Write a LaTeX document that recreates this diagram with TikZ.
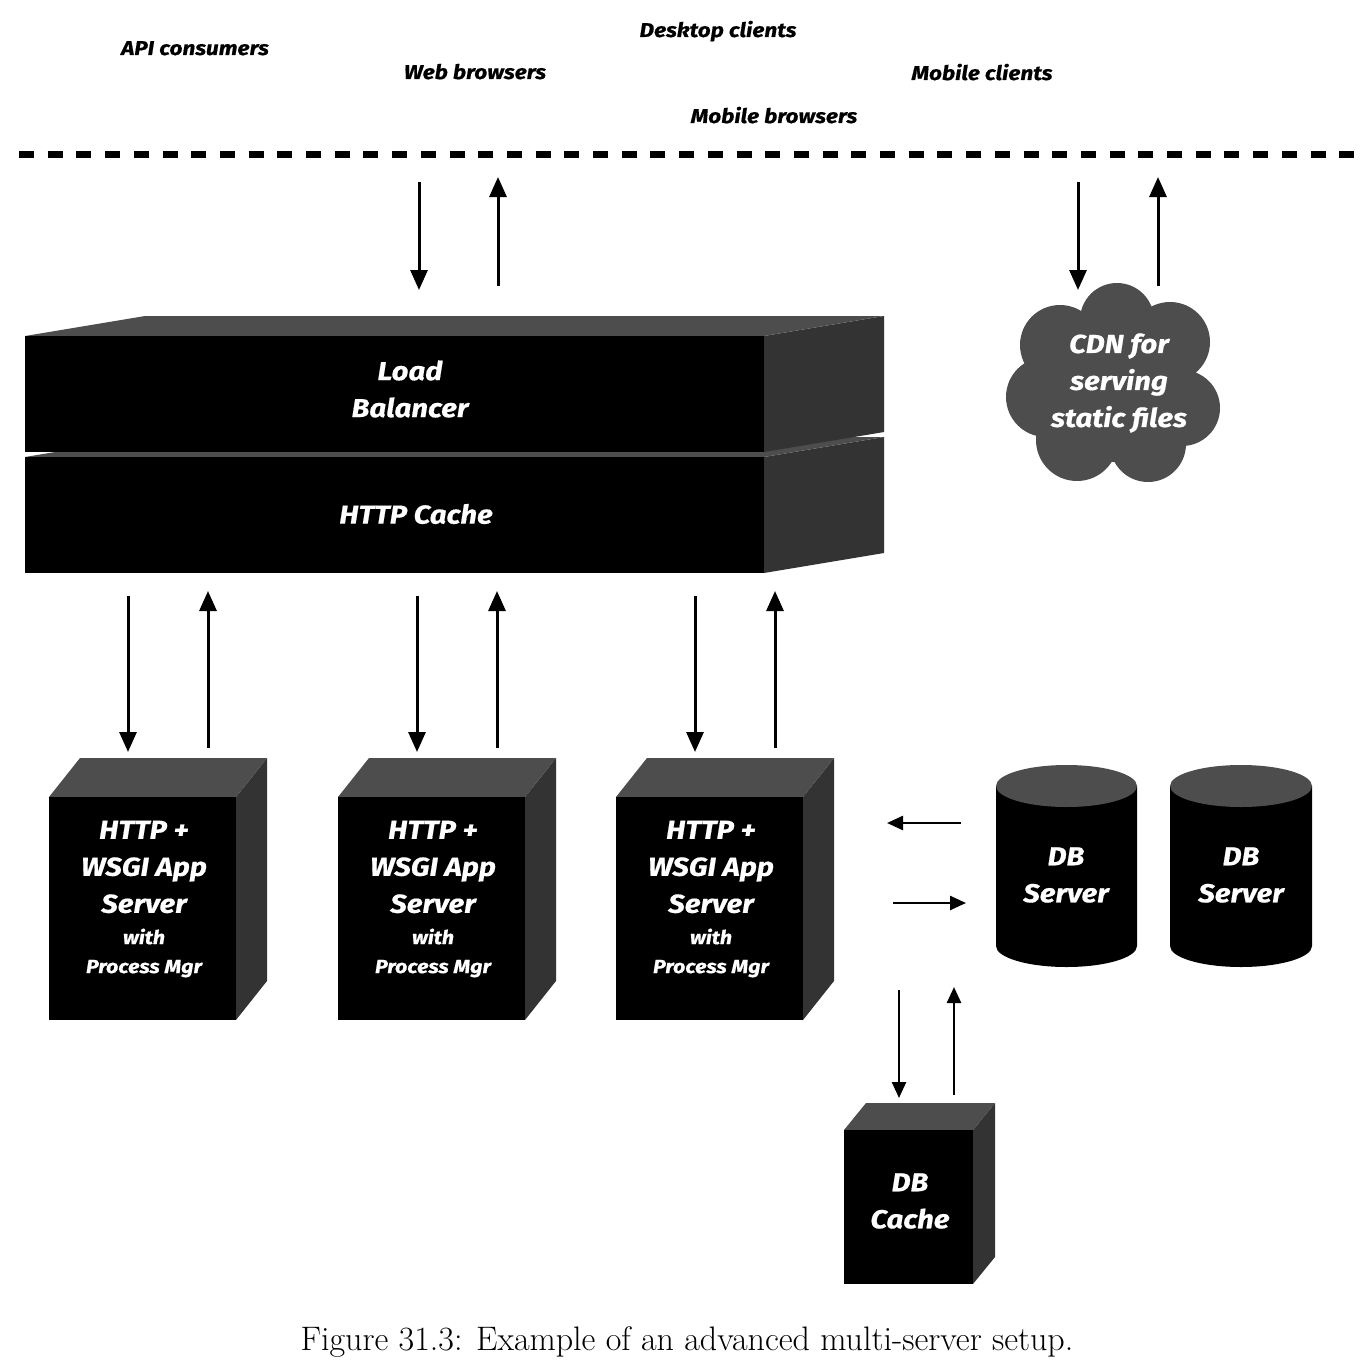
\documentclass[tikz,border=0pt]{standalone}
\usepackage{fontspec}
\usetikzlibrary{arrows.meta}
\newfontfamily\lab{Fira Sans}[FakeStretch=1.13,FakeBold=0.6]
\definecolor{topg}{HTML}{4D4D4D}
\definecolor{sideg}{HTML}{333333}
\newcommand{\mycuboid}[6]{%
  \fill[sideg] (#3,#2) -- ++(#5,-#6) -- (#3+#5,#4-#6) -- (#3,#4) -- cycle;
  \fill[topg] (#1,#2) -- ++(#5,-#6) -- (#3+#5,#2-#6) -- (#3,#2) -- cycle;
  \fill[black] (#1,#2) rectangle (#3,#4);}
\newcommand{\mycyl}[3]{% left x, right x
  \fill[black] (#1,786) -- (#1,946) arc[start angle=180,end angle=360,x radius={(#2-#1)/2*1pt},y radius=21pt] -- (#2,786) -- cycle;
  \fill[topg] ({(#1+#2)/2},786) ellipse[x radius={(#2-#1)/2*1pt},y radius=21pt];}
\tikzset{
  big/.style={text=white,align=center,font=\lab\bfseries\itshape\fontsize{26}{37}\selectfont,inner sep=0pt},
  small/.style={text=white,align=center,font=\lab\bfseries\itshape\fontsize{19}{29}\selectfont,inner sep=0pt},
  client/.style={text=black,anchor=base,font=\lab\bfseries\itshape\fontsize{20}{23}\selectfont,inner sep=0pt},
  arr/.style={line width=3pt,-{Triangle[length=20pt,width=17pt]}},
  arrs/.style={line width=2.5pt,-{Triangle[length=16pt,width=14pt]}},
}
\begin{document}
\begin{tikzpicture}[x=1pt,y=-1pt]
\useasboundingbox (0,0) rectangle (1368,1362);
% clients
\node[client] (api) at (195,55) {API consumers};
\node[client] (web) at (475,79) {Web browsers};
\node[client] (desk) at (718,37) {Desktop clients};
\node[client] (mobc) at (982,80) {Mobile clients};
\node[client] (mobb) at (774,123) {Mobile browsers};
\draw[line width=7pt,dash pattern=on 15pt off 13.7pt] (19,155) -- (1360,155);
% load balancer + cache
\mycuboid{25}{457}{764}{573}{120}{20}
\mycuboid{25}{336}{764}{452}{120}{20}
\node[big] (lb) at (410,389) {Load\\Balancer};
\node[big] (cache) at (416,514) {HTTP Cache};
% cdn cloud
\begin{scope}
\fill[topg] (1117,320) circle[radius=37pt] (1060,345) circle[radius=40pt]
  (1170,342) circle[radius=40pt] (1046,397) circle[radius=40pt]
  (1182,408) circle[radius=38pt] (1077,440) circle[radius=41pt]
  (1148,444) circle[radius=38pt] (1115,390) circle[radius=72pt];
\end{scope}
\node[big] (cdn) at (1119,383) {CDN for\\serving\\static files};
% app servers
\foreach \x/\n in {49/1,338/2,616/3}{
  \mycuboid{\x}{797}{\x+187}{1020}{31}{39}
  \node[big] (s\n a) at (\x+95,867) {HTTP +\\WSGI App\\Server};
  \node[small] (s\n b) at (\x+95,953) {with\\Process Mgr};
}
% db servers
\mycyl{996}{1137}{}
\mycyl{1170}{1312}{}
\node[big] (db1) at (1066,875) {DB\\Server};
\node[big] (db2) at (1241,875) {DB\\Server};
% db cache
\mycuboid{844}{1130}{973}{1284}{22}{27}
\node[big] (dbc) at (910,1201) {DB\\Cache};
% arrow endpoints
\coordinate (t1s) at (419,182); \coordinate (t1e) at (419,290);
\coordinate (t2s) at (498,286); \coordinate (t2e) at (498,177);
\coordinate (c1s) at (1078,182); \coordinate (c1e) at (1078,290);
\coordinate (c2s) at (1158,286); \coordinate (c2e) at (1158,177);
\draw[arr] (t1s) -- (t1e);
\draw[arr] (t2s) -- (t2e);
\draw[arr] (c1s) -- (c1e);
\draw[arr] (c2s) -- (c2e);
\foreach \d/\u/\n in {128/208/1,417/497/2,695/775/3}{
  \coordinate (d\n s) at (\d,596); \coordinate (d\n e) at (\d,752);
  \coordinate (u\n s) at (\u,748); \coordinate (u\n e) at (\u,591);
  \draw[arr] (d\n s) -- (d\n e);
  \draw[arr] (u\n s) -- (u\n e);
}
\coordinate (h1s) at (961,823); \coordinate (h1e) at (887,823);
\coordinate (h2s) at (893,903); \coordinate (h2e) at (966,903);
\draw[arrs] (h1s) -- (h1e);
\draw[arrs] (h2s) -- (h2e);
\coordinate (v1s) at (899,990); \coordinate (v1e) at (899,1098);
\coordinate (v2s) at (954,1095); \coordinate (v2e) at (954,987);
\draw[arrs] (v1s) -- (v1e);
\draw[arrs] (v2s) -- (v2e);
% caption
\node[anchor=base,inner sep=0pt,font=\fontsize{34}{40}\selectfont] (cap) at (687,1350) {Figure 31.3: Example of an advanced multi-server setup.};
\end{tikzpicture}
\end{document}
